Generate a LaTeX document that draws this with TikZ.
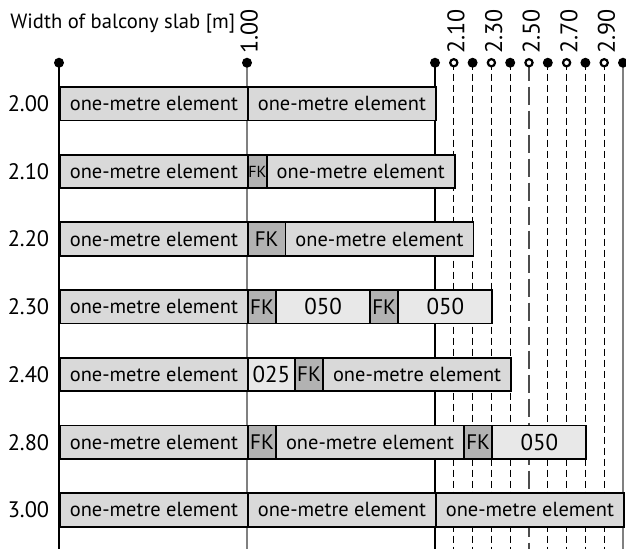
\documentclass[tikz,border=0pt]{standalone}
\usepackage{fontspec}
\setmainfont{PT Sans}

\begin{document}
\begin{tikzpicture}[x=94pt, y=-33.85pt, font=\fontsize{10.2}{12}\selectfont,
  box/.style={draw, line width=0.9pt, minimum height=16.75pt, inner sep=0pt, anchor=west},
  unit/.style={box, fill=gray!30, minimum width=94pt},
  fk/.style={box, fill=gray!60, font=\fontsize{10.5}{12}\selectfont},
  part/.style={box, fill=gray!18, font=\fontsize{11.5}{13}\selectfont},
  post/.style={line width=0.6pt},
  dashline/.style={post, dash pattern=on 3.5pt off 2pt},
  longdash/.style={post, black!70, dash pattern=on 9pt off 3pt},
  dotfull/.style={circle, fill=black, inner sep=0pt, minimum size=5pt},
  dothollow/.style={circle, draw, fill=white, line width=1.1pt, inner sep=0pt, minimum size=3.6pt},
  toplabel/.style={rotate=90, anchor=west, inner sep=0pt, font=\fontsize{12}{14}\selectfont},
  rowlabel/.style={anchor=east, inner sep=0pt, font=\fontsize{11.2}{13}\selectfont}]

  \useasboundingbox (-29.5pt,51.875pt) rectangle (283.5pt,-222.625pt);

  % 1. Axe des largeurs : repères en haut et en bas de chaque trait
  \foreach \n in {0,10,20,21,...,30} {
    \coordinate (t\n) at (\n/10,-0.6056);
    \coordinate (b\n) at (\n/10,6.577);
  }

  \draw[post] (t0) -- (b0);
  \draw[post, gray] (t10) -- (b10);
  \draw[post] (t20) -- (b20);
  \foreach \n in {21,22,23,24,26,27,28,29} \draw[dashline] (t\n) -- (b\n);
  \draw[longdash] (t25) -- (b25);
  \draw[post, gray] (t30) -- (b30);

  % Titre et cotes
  \node[anchor=base west, inner sep=0pt, font=\fontsize{10.3}{12}\selectfont] (title) at (-0.2606,-1.114) {Width of balcony slab [m]};
  \node[toplabel] (l10) at (1.012,-0.73) {1.00};
  \node[toplabel] (l21) at (2.112,-0.73) {2.10};
  \node[toplabel] (l23) at (2.312,-0.73) {2.30};
  \node[toplabel] (l25) at (2.512,-0.73) {2.50};
  \node[toplabel] (l27) at (2.712,-0.73) {2.70};
  \node[toplabel] (l29) at (2.912,-0.73) {2.90};

  % 2. Les dalles, une ligne par largeur
  \node[rowlabel] (y0) at (-0.05,0) {2.00};
  \node[unit] (a1) at (0,0) {one-metre element};
  \node[unit] (a2) at (1,0) {one-metre element};

  \node[rowlabel] (y1) at (-0.05,1) {2.10};
  \node[unit] (b1) at (0,1) {one-metre element};
  \node[fk, font=\fontsize{8}{9}\selectfont, minimum width=9.4pt] (b2) at (1,1) {FK};
  \node[unit] (b3) at (1.1,1) {one-metre element};

  \node[rowlabel] (y2) at (-0.05,2) {2.20};
  \node[unit] (c1) at (0,2) {one-metre element};
  \node[fk, minimum width=18.8pt] (c2) at (1,2) {FK};
  \node[unit] (c3) at (1.2,2) {one-metre element};

  \node[rowlabel] (y3) at (-0.05,3) {2.30};
  \node[unit] (e1) at (0,3) {one-metre element};
  \node[fk, minimum width=14.1pt] (e2) at (1,3) {FK};
  \node[part, minimum width=47pt] (e3) at (1.15,3) {050};
  \node[fk, minimum width=14.1pt] (e4) at (1.65,3) {FK};
  \node[part, minimum width=47pt] (e5) at (1.8,3) {050};

  \node[rowlabel] (y4) at (-0.05,4) {2.40};
  \node[unit] (f1) at (0,4) {one-metre element};
  \node[part, minimum width=23.5pt] (f2) at (1,4) {025};
  \node[fk, minimum width=14.1pt] (f3) at (1.25,4) {FK};
  \node[unit] (f4) at (1.4,4) {one-metre element};

  \node[rowlabel] (y5) at (-0.05,5) {2.80};
  \node[unit] (g1) at (0,5) {one-metre element};
  \node[fk, minimum width=14.1pt] (g2) at (1,5) {FK};
  \node[unit] (g3) at (1.15,5) {one-metre element};
  \node[fk, minimum width=14.1pt] (g4) at (2.15,5) {FK};
  \node[part, minimum width=47pt] (g5) at (2.3,5) {050};

  \node[rowlabel] (y6) at (-0.05,6) {3.00};
  \node[unit] (h1) at (0,6) {one-metre element};
  \node[unit] (h2) at (1,6) {one-metre element};
  \node[unit] (h3) at (2,6) {one-metre element};

  % 3. Points sur l'axe
  \foreach \n in {0,10,20,22,24,...,30} \node[dotfull] (d\n) at (t\n) {};
  \foreach \n in {21,23,...,29} \node[dothollow] (d\n) at (t\n) {};

\end{tikzpicture}
\end{document}
